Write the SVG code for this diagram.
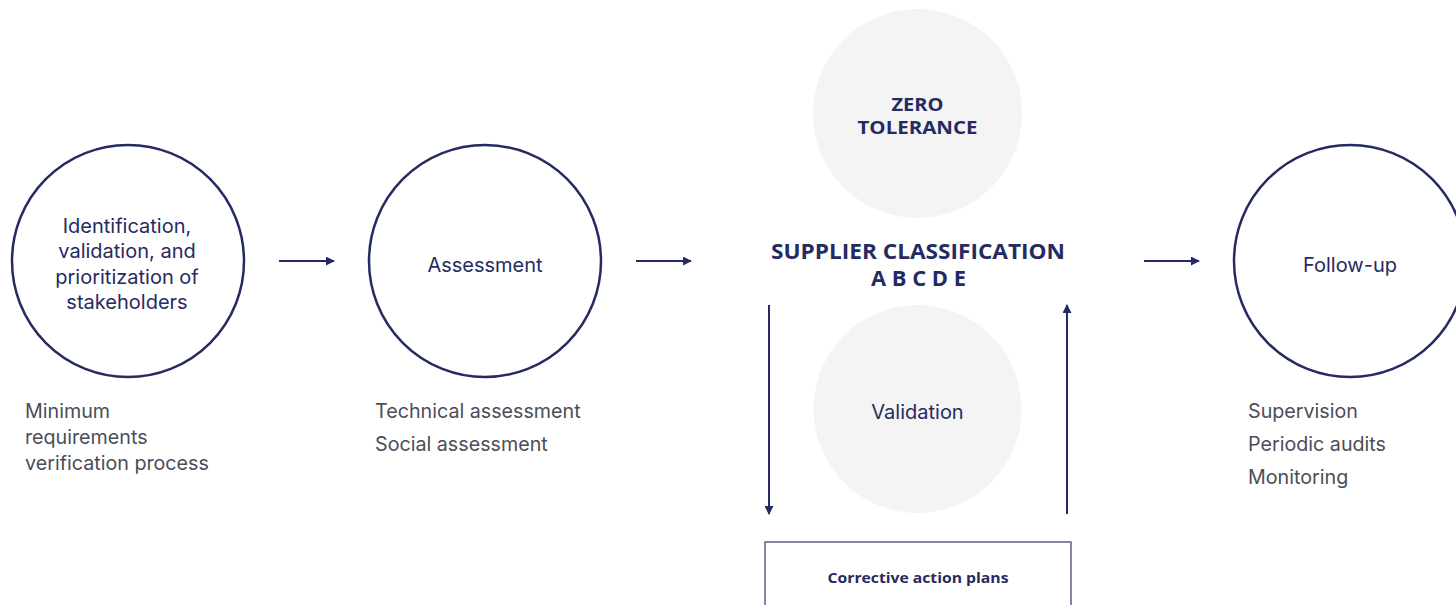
<svg xmlns="http://www.w3.org/2000/svg" width="1456" height="605" viewBox="0 0 1456 605">
<defs>
<style>
.ring{fill:#fff;stroke:#252b62;stroke-width:2.5}
.soft{fill:#f4f4f4}
.lbl{font-family:Inter,"Open Sans",sans-serif;font-size:20px;fill:#252b62;text-anchor:middle}
.bold{font-family:"Open Sans",Inter,sans-serif;font-weight:700;fill:#252b62;text-anchor:middle}
.desc{font-family:Inter,"Open Sans",sans-serif;font-size:19.7px;fill:#4a4e58}
.conn{stroke:#252b62;stroke-width:2;fill:none}
</style>
<marker id="ah" viewBox="0 0 10 10" refX="9" refY="5" markerWidth="4.5" markerHeight="4.5" orient="auto" markerUnits="strokeWidth">
<path d="M0,0 L10,5 L0,10 z" fill="#252b62"/>
</marker>
</defs>
<rect width="1456" height="605" fill="#fff"/>
<g id="connectors">
<line class="conn" x1="279" y1="261" x2="334" y2="261" marker-end="url(#ah)"/>
<line class="conn" x1="636" y1="261" x2="691" y2="261" marker-end="url(#ah)"/>
<line class="conn" x1="1144" y1="261" x2="1199" y2="261" marker-end="url(#ah)"/>
<line class="conn" x1="769" y1="305" x2="769" y2="514" marker-end="url(#ah)"/>
<line class="conn" x1="1067" y1="514" x2="1067" y2="305" marker-end="url(#ah)"/>
</g>
<g id="identification">
<circle class="ring" cx="128" cy="261" r="116"/>
<text class="lbl" x="127" y="233">Identification,</text>
<text class="lbl" x="127" y="258">validation, and</text>
<text class="lbl" x="127" y="284">prioritization of</text>
<text class="lbl" x="127" y="309">stakeholders</text>
<text class="desc" x="25" y="418">Minimum</text>
<text class="desc" x="25" y="444">requirements</text>
<text class="desc" x="25" y="470">verification process</text>
</g>
<g id="assessment">
<circle class="ring" cx="485" cy="261" r="116"/>
<text class="lbl" x="485" y="272">Assessment</text>
<text class="desc" x="375" y="418">Technical assessment</text>
<text class="desc" x="375" y="451">Social assessment</text>
</g>
<g id="zero-tolerance">
<circle class="soft" cx="917.5" cy="113.5" r="104.5"/>
<text class="bold" x="917.5" y="111" font-size="18" textLength="52" lengthAdjust="spacingAndGlyphs">ZERO</text>
<text class="bold" x="917.5" y="134" font-size="18" textLength="120" lengthAdjust="spacingAndGlyphs">TOLERANCE</text>
</g>
<g id="classification">
<text class="bold" x="918" y="259" font-size="21" textLength="294" lengthAdjust="spacingAndGlyphs">SUPPLIER CLASSIFICATION</text>
<text class="bold" x="918.5" y="286" font-size="21" textLength="95" lengthAdjust="spacingAndGlyphs">A B C D E</text>
</g>
<g id="validation">
<circle class="soft" cx="917.5" cy="409" r="104"/>
<text class="lbl" x="917.5" y="419" font-size="18">Validation</text>
</g>
<g id="corrective">
<rect x="765" y="542" width="306" height="80" fill="#fff" stroke="#5a6291" stroke-width="1.5"/>
<text class="bold" x="918" y="583" font-size="15" font-weight="600" textLength="181" lengthAdjust="spacingAndGlyphs">Corrective action plans</text>
</g>
<g id="follow-up">
<circle class="ring" cx="1350" cy="261" r="116"/>
<text class="lbl" x="1350" y="272" font-size="20.5">Follow-up</text>
<text class="desc" x="1248" y="418">Supervision</text>
<text class="desc" x="1248" y="451">Periodic audits</text>
<text class="desc" x="1248" y="484">Monitoring</text>
</g>
</svg>
